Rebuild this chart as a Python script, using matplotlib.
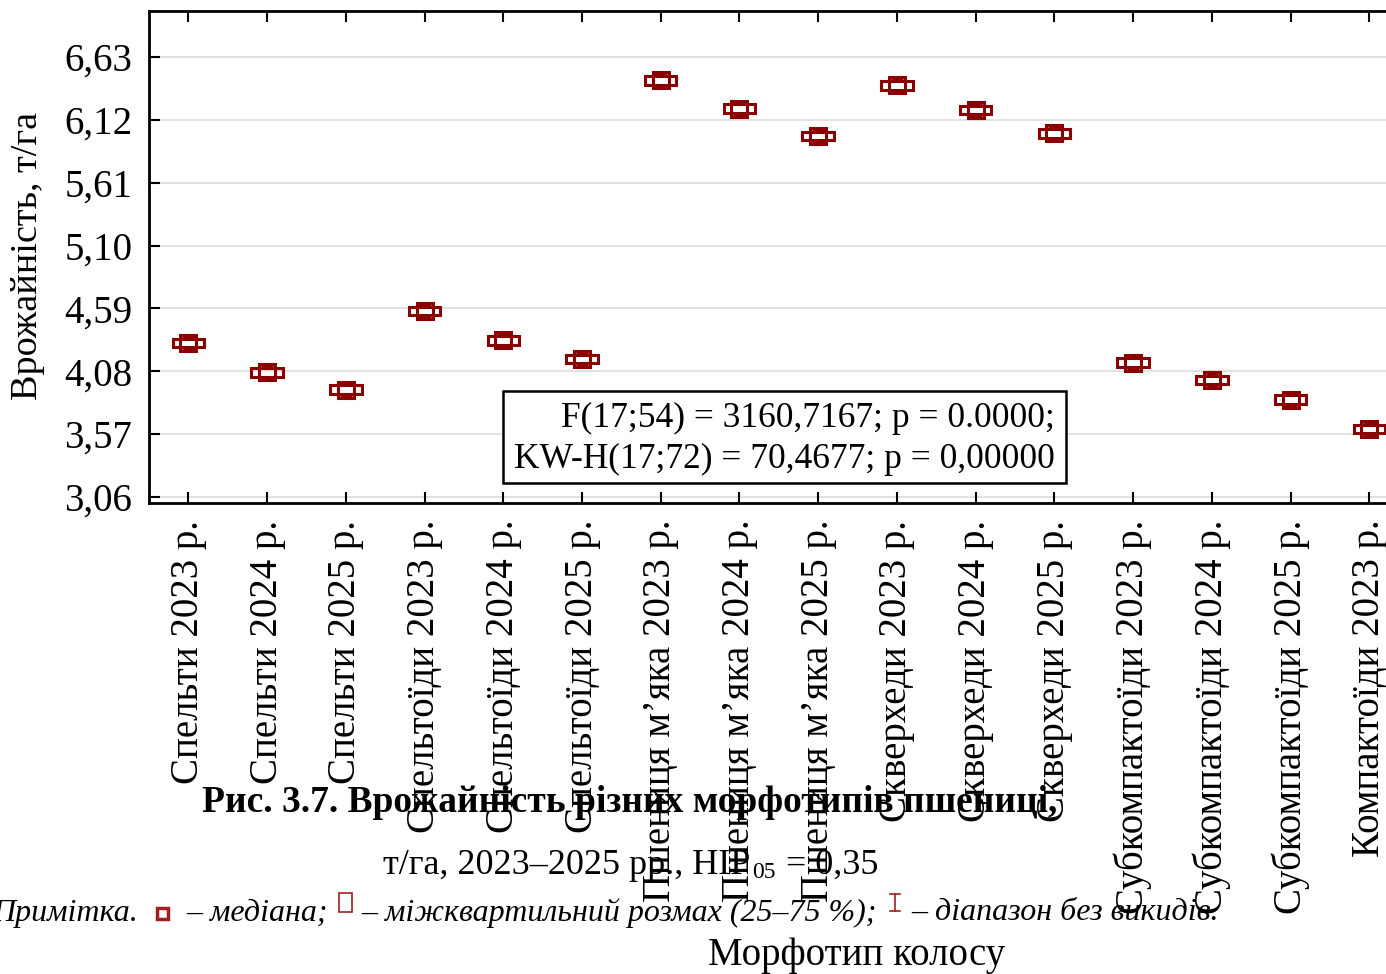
import matplotlib
matplotlib.use('Agg')
import matplotlib.pyplot as plt
from matplotlib.patches import Rectangle
from matplotlib.lines import Line2D

categories = ['Спельти 2023 р.', 'Спельти 2024 р.', 'Спельти 2025 р.',
              'Спельтоїди 2023 р.', 'Спельтоїди 2024 р.', 'Спельтоїди 2025 р.',
              'Пшениця м’яка 2023 р.', 'Пшениця м’яка 2024 р.', 'Пшениця м’яка 2025 р.',
              'Скверхеди 2023 р.', 'Скверхеди 2024 р.', 'Скверхеди 2025 р.',
              'Субкомпактоїди 2023 р.', 'Субкомпактоїди 2024 р.', 'Субкомпактоїди 2025 р.',
              'Компактоїди 2023 р.']
medians = [4.31, 4.07, 3.93, 4.57, 4.33, 4.18, 6.44, 6.21, 5.99, 6.40, 6.20, 6.01,
           4.15, 4.01, 3.85, 3.61]
q1 = [4.275, 4.035, 3.895, 4.535, 4.295, 4.145, 6.405, 6.175, 5.955, 6.365, 6.165, 5.975,
      4.115, 3.975, 3.815, 3.575]
q3 = [4.345, 4.105, 3.965, 4.605, 4.365, 4.215, 6.475, 6.245, 6.025, 6.435, 6.235, 6.045,
      4.185, 4.045, 3.885, 3.645]
lo = [4.26, 4.02, 3.88, 4.52, 4.28, 4.13, 6.39, 6.16, 5.94, 6.35, 6.15, 5.96,
      4.10, 3.96, 3.80, 3.56]
hi = [4.36, 4.12, 3.98, 4.62, 4.38, 4.23, 6.49, 6.26, 6.04, 6.45, 6.25, 6.06,
      4.20, 4.06, 3.90, 3.66]
yticks = [3.06, 3.57, 4.08, 4.59, 5.10, 5.61, 6.12, 6.63]
ytick_labels = ['3,06', '3,57', '4,08', '4,59', '5,10', '5,61', '6,12', '6,63']

plt.rcParams['font.family'] = ['Liberation Serif', 'DejaVu Serif']
RED = '#8b0000'
W, H = 1386, 974

fig = plt.figure(figsize=(W / 100, H / 100), dpi=100)
ax = fig.add_axes([149 / W, (H - 503) / H, 18 * 78.73 / W, 492 / H])
ax.set_xlim(-0.5, 17.5)
ax.set_ylim(3.011, 7.003)

for y in yticks:
    ax.axhline(y, color='#dddddd', lw=1.2, zorder=0)

for i, (m, a, b, l, h) in enumerate(zip(medians, q1, q3, lo, hi)):
    ax.add_patch(Rectangle((i - 0.2, a), 0.4, b - a, fill=False, ec=RED, lw=2.2, zorder=3))
    ax.vlines(i, b, h, color=RED, lw=2, zorder=3)
    ax.vlines(i, l, a, color=RED, lw=2, zorder=3)
    ax.hlines([l, h], i - 0.08, i + 0.08, color=RED, lw=2, zorder=3)
    ax.plot(i, m, marker='s', ms=12, mfc='none', mec=RED, mew=2.2, zorder=4)

ax.set_yticks(yticks)
ax.set_yticklabels(ytick_labels, fontsize=28)
ax.set_xticks(range(len(categories)))
ax.set_xticklabels(categories, rotation=90, fontsize=28, va='top')
ax.tick_params(axis='both', direction='in', length=8, width=1.5, top=True, right=False)
ax.tick_params(axis='y', pad=12)
ax.tick_params(axis='x', pad=12)
for s in ax.spines.values():
    s.set_linewidth(2)

def px(x, y):
    return x / W, 1 - y / H

# stats box
fig.patches.append(Rectangle(px(503, 483), (1066 - 503) / W, (483 - 391) / H,
                             transform=fig.transFigure, fill=True, fc='white',
                             ec='black', lw=1.8, zorder=5))
fig.text(*px(1055, 418), 'F(17;54) = 3160,7167; p = 0.0000;', ha='right', va='center',
         fontsize=25.5, zorder=6)
fig.text(*px(1055, 459), 'KW-H(17;72) = 70,4677; p = 0,00000', ha='right', va='center',
         fontsize=25.5, zorder=6)

# y label
fig.text(*px(28, 256), 'Врожайність, т/га', rotation=90, ha='center', va='center', fontsize=27.5)

# caption overlay
fig.text(*px(630, 802), 'Рис. 3.7. Врожайність різних морфотипів пшениці,', ha='center',
         va='center', fontsize=27, fontweight='bold')
fig.text(*px(750, 865), 'т/га, 2023–2025 рр., НІР', ha='right', va='center', fontsize=26)
fig.text(*px(752, 872), '05', ha='left', va='center', fontsize=17)
fig.text(*px(777, 865), ' = 0,35', ha='left', va='center', fontsize=26)

# note line
ny = 913
fig.text(*px(-8, ny), 'Примітка.', ha='left', va='center', fontsize=23, style='italic')
fig.patches.append(Rectangle(px(157, 919), 11 / W, 11 / H, transform=fig.transFigure,
                             fill=False, ec='#a02020', lw=2.5))
fig.text(*px(186, ny), '– медіана;', ha='left', va='center', fontsize=23, style='italic')
fig.patches.append(Rectangle(px(339, 912), 13 / W, 19 / H, transform=fig.transFigure,
                             fill=False, ec='#a02020', lw=1.2))
fig.text(*px(361, ny), '– міжквартильний розмах (25–75 %);', ha='left', va='center',
         fontsize=23, style='italic')
fig.add_artist(Line2D([895 / W, 895 / W], [1 - 894 / H, 1 - 911 / H], color='#a02020', lw=1.2))
fig.add_artist(Line2D([890 / W, 900 / W], [1 - 894 / H, 1 - 894 / H], color='#a02020', lw=1.2))
fig.add_artist(Line2D([890 / W, 900 / W], [1 - 911 / H, 1 - 911 / H], color='#a02020', lw=1.2))
fig.text(*px(911, ny), '– діапазон без викидів.', ha='left', va='center', fontsize=23,
         style='italic')

# x label
fig.text(*px(857, 955), 'Морфотип колосу', ha='center', va='center', fontsize=28)

fig.savefig('out.png', dpi=100)
